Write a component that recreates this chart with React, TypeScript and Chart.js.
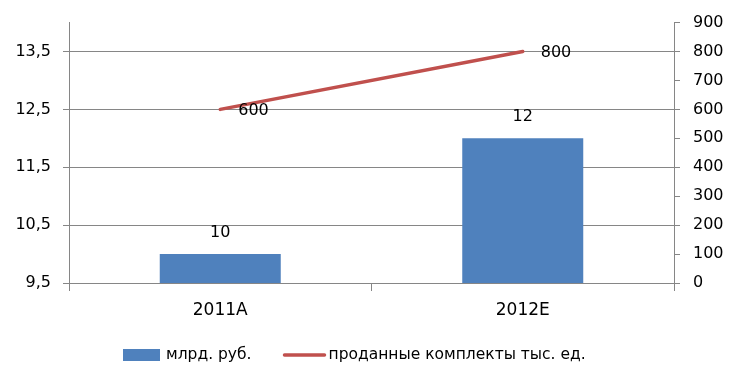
import React, { useEffect, useRef } from "react";
import { Chart, registerables } from "chart.js";

Chart.register(...registerables);

const categories = ["2011A", "2012E"];
const barValues = [10, 12];
const lineValues = [600, 800];
const barLabel = "млрд. руб.";
const lineLabel = "проданные комплекты тыс. ед.";
const leftTicks = [9.5, 10.5, 11.5, 12.5, 13.5];
const leftMin = 9.5;
const leftMax = 14;
const rightMin = 0;
const rightMax = 900;
const rightStep = 100;

const BAR_COLOR = "#4F81BD";
const LINE_COLOR = "#C0504D";
const GRID_COLOR = "#868686";
const FONT = "'DejaVu Sans', sans-serif";

const fmtComma = (v: number) => String(v).replace(".", ",");

const labelsPlugin = {
  id: "valueLabels",
  afterDatasetsDraw(chart: any) {
    const ctx = chart.ctx;
    ctx.save();
    ctx.font = `16px ${FONT}`;
    ctx.fillStyle = "#000";
    const barMeta = chart.getDatasetMeta(0);
    barMeta.data.forEach((el: any, i: number) => {
      ctx.textAlign = "center";
      ctx.textBaseline = "middle";
      ctx.fillText(fmtComma(barValues[i]), el.x, el.y - 21);
    });
    const lineMeta = chart.getDatasetMeta(1);
    lineMeta.data.forEach((el: any, i: number) => {
      ctx.textAlign = "left";
      ctx.textBaseline = "middle";
      ctx.fillText(String(lineValues[i]), el.x + 18, el.y + 1);
    });
    ctx.restore();
  },
};

const legendPlugin = {
  id: "customLegend",
  afterDraw(chart: any) {
    const ctx = chart.ctx;
    ctx.save();
    ctx.font = `15.5px ${FONT}`;
    ctx.textBaseline = "middle";
    ctx.textAlign = "left";
    const y = chart.chartArea.bottom + 72;
    let x = 123;
    ctx.fillStyle = BAR_COLOR;
    ctx.fillRect(x, y - 6, 37, 12);
    x += 43;
    ctx.fillStyle = "#000";
    ctx.fillText(barLabel, x, y);
    x += ctx.measureText(barLabel).width + 33;
    ctx.strokeStyle = LINE_COLOR;
    ctx.lineWidth = 3.5;
    ctx.lineCap = "round";
    ctx.beginPath();
    ctx.moveTo(x, y);
    ctx.lineTo(x + 40, y);
    ctx.stroke();
    x += 44;
    ctx.fillText(lineLabel, x, y);
    ctx.restore();
  },
};

export default function App() {
  const ref = useRef<HTMLCanvasElement | null>(null);
  useEffect(() => {
    document.body.style.margin = "0";
    if (!ref.current) return;
    const chart = new Chart(ref.current, {
      type: "bar",
      data: {
        labels: categories,
        datasets: [
          {
            type: "bar",
            label: barLabel,
            data: barValues,
            backgroundColor: BAR_COLOR,
            yAxisID: "y",
            categoryPercentage: 1,
            barPercentage: 0.4,
            order: 2,
          },
          {
            type: "line",
            label: lineLabel,
            data: lineValues,
            borderColor: LINE_COLOR,
            backgroundColor: LINE_COLOR,
            borderWidth: 3.5,
            pointRadius: 0,
            borderCapStyle: "round",
            yAxisID: "y1",
            order: 1,
          } as any,
        ],
      },
      options: {
        animation: false,
        responsive: false,
        maintainAspectRatio: false,
        layout: { padding: { top: 22, bottom: 60, left: 0, right: 0 } },
        plugins: {
          legend: { display: false },
          tooltip: { enabled: false },
        },
        scales: {
          x: {
            offset: true,
            grid: { offset: true, drawOnChartArea: false, tickLength: 8, color: GRID_COLOR },
            border: { display: true, color: GRID_COLOR },
            ticks: { color: "#000", font: { family: FONT, size: 17 }, padding: 9 },
            afterFit: (s: any) => { s.height = 44; },
          },
          y: {
            position: "left",
            min: leftMin,
            max: leftMax,
            afterBuildTicks: (s: any) => { s.ticks = leftTicks.map((v) => ({ value: v })); },
            grid: { color: GRID_COLOR, tickLength: 6 },
            border: { display: true, color: GRID_COLOR },
            ticks: { color: "#000", font: { family: FONT, size: 16 }, padding: 12, callback: (v: any) => fmtComma(Number(v)) },
            afterFit: (s: any) => { s.width = 69; },
          },
          y1: {
            position: "right",
            min: rightMin,
            max: rightMax,
            grid: { drawOnChartArea: false, tickLength: 6, color: GRID_COLOR },
            border: { display: true, color: GRID_COLOR },
            ticks: { stepSize: rightStep, color: "#000", font: { family: FONT, size: 16 }, padding: 13 },
            afterFit: (s: any) => { s.width = 65; },
          },
        },
      },
      plugins: [labelsPlugin, legendPlugin],
    });
    return () => chart.destroy();
  }, []);
  return (
    <div style={{ position: "absolute", left: 0, top: 0, width: 739, height: 387, background: "#fff" }}>
      <canvas ref={ref} width={739} height={387} style={{ width: 739, height: 387, display: "block" }} />
    </div>
  );
}
